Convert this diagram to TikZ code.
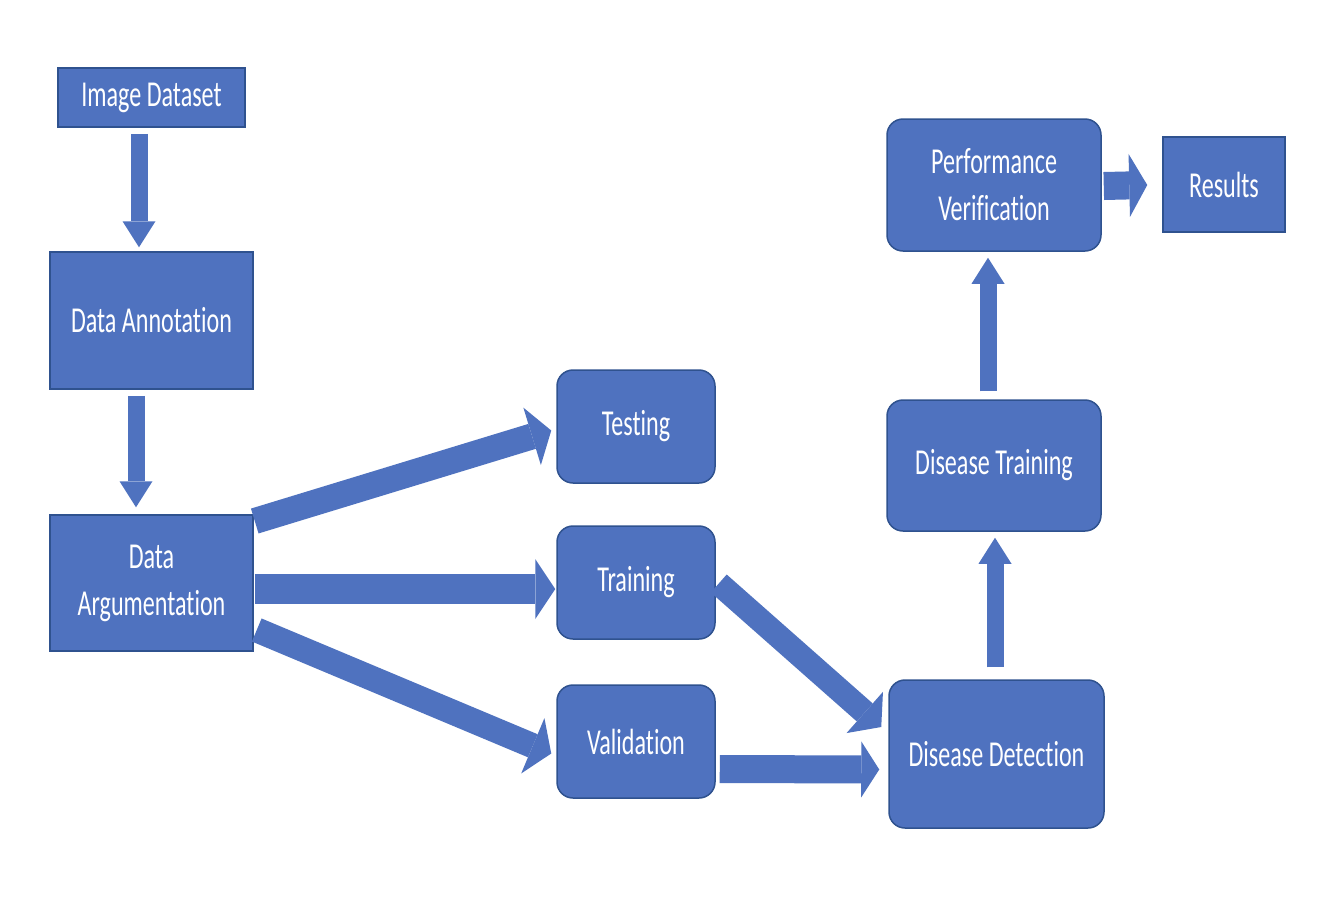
\documentclass[tikz,border=0pt]{standalone}
\usepackage{fontspec}
\setmainfont{Carlito}[FakeStretch=0.66, Ligatures=NoCommon]
\usetikzlibrary{arrows.meta,calc}
\definecolor{boxblue}{RGB}{79,114,191}
\definecolor{edgeblue}{RGB}{47,82,143}

\begin{document}
\begin{tikzpicture}[x = 1pt, y = -1pt,
    box/.style = {draw = edgeblue, fill = boxblue, line width = 1.5pt, text = white, inner sep = 0pt, align = center, font = \fontsize{36.5}{47}\selectfont},
    rbox/.style = {box, rounded corners = 16pt},
    flowh/.style = {draw = boxblue, line width = 28pt, -{Triangle[length = 20pt, width = 60pt, line width = 0pt]}},
    flowv/.style = {draw = boxblue, line width = 17pt, -{Triangle[length = 26pt, width = 33pt, line width = 0pt]}}]

    % Marco de la figura:
    \fill[white] (0, 0) rectangle (1338, 922);
    \useasboundingbox (0, 0) rectangle (1338, 922);

    % Columna de preparación de datos:
    \node[box, minimum width = 187pt, minimum height = 59pt] (ds) at (151.5, 97.5) {Image Dataset};
    \node[box, minimum width = 203pt, minimum height = 137pt] (ann) at (151.5, 320.5) {Data Annotation};
    \node[box, minimum width = 203pt, minimum height = 136pt] (arg) at (151.5, 583) {Data\\Argumentation};

    % Particiones del conjunto:
    \node[rbox, minimum width = 158pt, minimum height = 113pt] (test) at (636, 426.5) {Testing};
    \node[rbox, minimum width = 158pt, minimum height = 113pt] (train) at (636, 582.5) {Training};
    \node[rbox, minimum width = 158pt, minimum height = 113pt] (val) at (636, 741.5) {Validation};

    % Columna de detección y resultados:
    \node[rbox, minimum width = 215pt, minimum height = 148pt] (dd) at (996.5, 754) {Disease Detection};
    \node[rbox, minimum width = 214pt, minimum height = 131pt] (dt) at (994, 465.5) {Disease Training};
    \node[rbox, minimum width = 214pt, minimum height = 132pt] (pv) at (994, 185) {Performance\\Verification};
    \node[box, minimum width = 122pt, minimum height = 95pt] (res) at (1224, 184.5) {Results};

    % Flechas de bloque:
    \draw[flowv] ($(ds.south) + (-12.5, 6)$) -- ($(ann.north) + (-12.5, -4)$);
    \draw[flowv] ($(ann.south) + (-15.5, 6)$) -- ($(arg.north) + (-15.5, -7)$);

    \draw[flowh, line width = 26pt] ($(arg.east) + (1, -62)$) -- ($(test.west) + (-5, 4)$);
    \draw[flowh, line width = 30pt] ($(arg.east) + (1, 6)$) -- ($(train.west) + (-1, 6.5)$);
    \draw[flowh, line width = 25pt] ($(arg.east) + (3, 47)$) -- ($(val.west) + (-5, 12)$);

    \draw[flowh, line width = 24pt, -{Triangle[length = 22pt, width = 55pt, line width = 0pt]}] ($(train.east) + (3, 1)$) -- ($(dd.west) + (-7, -27)$);
    \draw[flowh, -{Triangle[length = 18pt, width = 56pt, line width = 0pt]}] ($(val.east) + (4, 27.5)$) -- ($(dd.west) + (-9, 15.5)$);

    \draw[flowv] ($(dd.north) + (-1.5, -12)$) -- ($(dt.south) + (1, 6)$);
    \draw[flowv] ($(dt.north) + (-6, -8)$) -- ($(pv.south) + (-6, 6)$);

    \draw[flowh, -{Triangle[length = 18pt, width = 63pt, line width = 0pt]}] ($(pv.east) + (2, 1)$) -- ($(res.west) + (-15, 0.5)$);

\end{tikzpicture}
\end{document}
